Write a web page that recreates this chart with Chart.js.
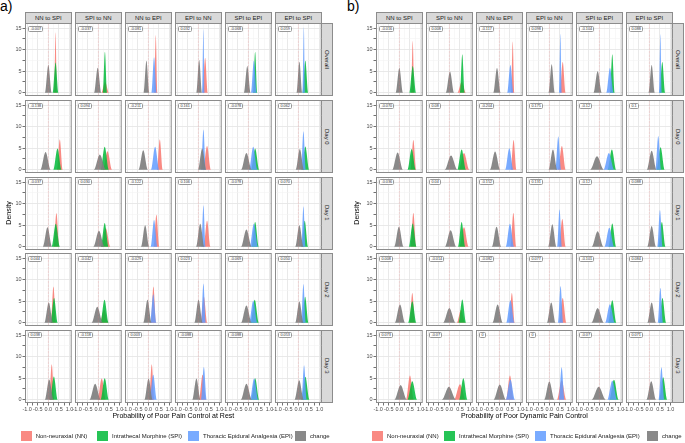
<!DOCTYPE html>
<html>
<head>
<meta charset="utf-8">
<script src="https://cdn.jsdelivr.net/npm/chart.js"></script>
<style>
  body { margin: 0; background: #fff; font-family: "Liberation Sans", Arial, sans-serif; }
  #fig { position: relative; width: 685px; height: 443px; overflow: hidden; background: #fff; }
  #fig div { position: absolute; white-space: nowrap; }
  .strip { box-sizing: border-box; background: #d9d9d9; border: 1px solid #8c8c8c; font-size: 6px; color: #1a1a1a;
           display: flex; align-items: center; justify-content: center; }
  .rstrip { writing-mode: vertical-rl; }
  .lab { font-size: 3.8px; line-height: 4px; padding: 0 1.2px; border: 0.5px solid #999; border-radius: 1.5px; background: #fff; color: #333; }
  .tag { font-size: 14px; color: #000; }
  .ttl { font-size: 7px; color: #000; }
  .key { width: 11px; height: 10px; }
  .ktx { font-size: 6px; color: #1a1a1a; line-height: 10px; }
  canvas { position: absolute; }
</style>
</head>
<body>
<div id="fig"></div>
<script>
const columns = ['NN to SPI', 'SPI to NN', 'NN to EPI', 'EPI to NN', 'SPI to EPI', 'EPI to SPI'];
const rowNames = ['Overall', 'Day 0', 'Day 1', 'Day 2', 'Day 3'];
const groups = ['NN', 'SPI', 'EPI', 'chg'];
const groupNames = { NN: 'Non-neuraxial (NN)', SPI: 'Intrathecal Morphine (SPI)', EPI: 'Thoracic Epidural Analgesia (EPI)', chg: 'change' };
const groupColors = { NN: 'rgba(248,118,109,0.85)', SPI: 'rgba(0,186,56,0.85)', EPI: 'rgba(97,156,255,0.85)', chg: 'rgba(127,127,127,0.92)' };
const drawOrder = { NN: 3, SPI: 2, EPI: 1, chg: 0 };
const xTicks = [-1, -0.75, -0.5, -0.25, 0, 0.25, 0.5, 0.75, 1];
const xLabelled = [-1, -0.5, 0, 0.5, 1];
const yTicks = [0, 2.5, 5, 7.5, 10, 12.5, 15];
const yLabelled = [0, 5, 10, 15];
const refLine = 0;

// each curve: [group, centre, peak density, half width at base]
const restOverall = [
  [['NN', 0.34, 14.0, 0.07], ['SPI', 0.34, 7.0, 0.14], ['chg', 0.0, 6.4, 0.16]],
  [['NN', 0.32, 2.5, 0.18], ['SPI', 0.31, 9.5, 0.1], ['chg', -0.03, 5.8, 0.17]],
  [['NN', 0.35, 13.4, 0.075], ['EPI', 0.27, 8.2, 0.12], ['chg', -0.09, 7.4, 0.13]],
  [['NN', 0.32, 8.1, 0.12], ['EPI', 0.24, 14.7, 0.07], ['chg', 0.04, 7.6, 0.13]],
  [['SPI', 0.32, 9.5, 0.1], ['EPI', 0.26, 7.4, 0.13], ['chg', -0.05, 6.2, 0.16]],
  [['SPI', 0.33, 7.4, 0.13], ['EPI', 0.26, 15.2, 0.065], ['chg', 0.05, 7.2, 0.14]]
];
const restDay0 = [
  [['NN', 0.54, 7.0, 0.14], ['SPI', 0.43, 4.9, 0.2], ['chg', -0.13, 4.1, 0.24]],
  [['NN', 0.43, 4.3, 0.22], ['SPI', 0.30, 5.3, 0.19], ['chg', 0.07, 3.5, 0.28]],
  [['NN', 0.54, 7.0, 0.14], ['EPI', 0.32, 5.3, 0.19], ['chg', -0.24, 4.5, 0.22]],
  [['NN', 0.41, 5.5, 0.18], ['EPI', 0.24, 9.3, 0.11], ['chg', 0.18, 4.9, 0.2]],
  [['SPI', 0.32, 4.9, 0.2], ['EPI', 0.23, 5.3, 0.19], ['chg', -0.09, 3.9, 0.25]],
  [['SPI', 0.33, 5.4, 0.18], ['EPI', 0.24, 8.9, 0.11], ['chg', 0.07, 4.8, 0.2]]
];
const restDay1 = [
  [['NN', 0.38, 7.8, 0.13], ['SPI', 0.35, 5.3, 0.19], ['chg', -0.04, 4.5, 0.22]],
  [['NN', 0.35, 4.3, 0.22], ['SPI', 0.30, 5.5, 0.18], ['chg', 0.03, 3.7, 0.27]],
  [['NN', 0.38, 7.4, 0.13], ['EPI', 0.27, 6.2, 0.16], ['chg', -0.15, 5.0, 0.2]],
  [['NN', 0.41, 6.0, 0.16], ['EPI', 0.24, 9.6, 0.1], ['chg', 0.09, 5.3, 0.19]],
  [['SPI', 0.32, 5.7, 0.17], ['EPI', 0.26, 5.3, 0.19], ['chg', -0.09, 4.0, 0.25]],
  [['SPI', 0.30, 6.0, 0.16], ['EPI', 0.24, 9.4, 0.1], ['chg', 0.05, 5.0, 0.2]]
];
const restDay2 = [
  [['NN', 0.24, 8.4, 0.12], ['SPI', 0.27, 5.7, 0.17], ['chg', 0.02, 4.7, 0.21]],
  [['NN', 0.27, 3.0, 0.2], ['SPI', 0.29, 5.3, 0.19], ['chg', -0.05, 3.7, 0.27]],
  [['NN', 0.24, 8.4, 0.12], ['EPI', 0.23, 6.6, 0.15], ['chg', -0.04, 5.3, 0.19]],
  [['NN', 0.26, 6.0, 0.16], ['EPI', 0.24, 9.1, 0.11], ['chg', 0.01, 5.3, 0.19]],
  [['SPI', 0.30, 5.3, 0.19], ['EPI', 0.23, 5.1, 0.2], ['chg', -0.09, 4.0, 0.25]],
  [['SPI', 0.32, 6.0, 0.16], ['EPI', 0.24, 9.0, 0.11], ['chg', 0.05, 4.9, 0.2]]
];
const restDay3 = [
  [['NN', 0.16, 8.2, 0.12], ['SPI', 0.26, 5.4, 0.18], ['chg', 0.04, 4.7, 0.21]],
  [['NN', 0.16, 4.9, 0.2], ['SPI', 0.30, 5.0, 0.2], ['chg', -0.15, 3.7, 0.27]],
  [['NN', 0.16, 8.2, 0.12], ['EPI', 0.23, 5.8, 0.17], ['chg', 0.01, 4.9, 0.2]],
  [['NN', 0.20, 5.8, 0.17], ['EPI', 0.26, 7.6, 0.13], ['chg', -0.09, 4.9, 0.2]],
  [['SPI', 0.32, 5.0, 0.2], ['EPI', 0.27, 4.9, 0.2], ['chg', -0.09, 3.7, 0.27]],
  [['SPI', 0.33, 5.3, 0.19], ['EPI', 0.27, 8.0, 0.12], ['chg', 0.04, 4.5, 0.22]]
];
const restLabels = [
  ['-0.007', '-0.037', '-0.081', '0.032', '-0.068', '0.059'],
  ['-0.138', '0.094', '-0.211', '0.161', '-0.078', '0.062'],
  ['-0.037', '0.030', '-0.122', '0.106', '-0.078', '0.070'],
  ['0.044', '-0.042', '-0.029', '0.023', '-0.069', '0.050'],
  ['0.038', '-0.118', '0.003', '-0.088', '-0.088', '0.053']
];

const dynOverall = [
  [['NN', 0.63, 12.0, 0.08], ['SPI', 0.63, 6.2, 0.16], ['chg', 0.0, 5.7, 0.17]],
  [['NN', 0.58, 2.5, 0.2], ['SPI', 0.61, 8.9, 0.11], ['chg', 0.03, 4.9, 0.2]],
  [['NN', 0.63, 11.9, 0.08], ['EPI', 0.52, 6.4, 0.15], ['chg', -0.11, 5.7, 0.17]],
  [['NN', 0.63, 7.1, 0.14], ['EPI', 0.52, 13.7, 0.07], ['chg', 0.11, 6.6, 0.15]],
  [['SPI', 0.61, 8.9, 0.11], ['EPI', 0.50, 5.7, 0.17], ['chg', -0.08, 5.0, 0.2]],
  [['SPI', 0.61, 7.1, 0.14], ['EPI', 0.52, 13.6, 0.07], ['chg', 0.11, 6.4, 0.15]]
];
const dynDay0 = [
  [['NN', 0.66, 6.9, 0.14], ['SPI', 0.58, 4.8, 0.2], ['chg', -0.08, 4.0, 0.25]],
  [['NN', 0.69, 3.9, 0.25], ['SPI', 0.58, 4.7, 0.21], ['chg', 0.08, 3.3, 0.3]],
  [['NN', 0.67, 6.9, 0.14], ['EPI', 0.47, 5.0, 0.2], ['chg', -0.2, 4.2, 0.24]],
  [['NN', 0.59, 5.5, 0.18], ['EPI', 0.42, 7.7, 0.13], ['chg', 0.17, 4.7, 0.21]],
  [['SPI', 0.59, 4.7, 0.21], ['EPI', 0.45, 3.9, 0.25], ['chg', -0.11, 3.1, 0.32]],
  [['SPI', 0.53, 5.2, 0.19], ['EPI', 0.42, 7.8, 0.13], ['chg', 0.11, 4.4, 0.23]]
];
const dynDay1 = [
  [['NN', 0.66, 7.9, 0.13], ['SPI', 0.63, 5.4, 0.18], ['chg', -0.02, 4.6, 0.22]],
  [['NN', 0.69, 4.5, 0.22], ['SPI', 0.58, 5.7, 0.17], ['chg', 0.06, 3.8, 0.26]],
  [['NN', 0.66, 7.9, 0.13], ['EPI', 0.50, 5.3, 0.19], ['chg', -0.13, 4.6, 0.22]],
  [['NN', 0.61, 6.4, 0.16], ['EPI', 0.48, 8.7, 0.11], ['chg', 0.14, 5.2, 0.19]],
  [['SPI', 0.61, 5.4, 0.18], ['EPI', 0.47, 4.4, 0.23], ['chg', -0.08, 3.6, 0.28]],
  [['SPI', 0.59, 5.7, 0.17], ['EPI', 0.50, 8.5, 0.12], ['chg', 0.11, 4.8, 0.21]]
];
const dynDay2 = [
  [['NN', 0.61, 6.9, 0.14], ['SPI', 0.61, 5.0, 0.2], ['chg', 0.03, 4.2, 0.24]],
  [['NN', 0.55, 3.0, 0.2], ['SPI', 0.61, 5.4, 0.18], ['chg', 0.0, 3.4, 0.29]],
  [['NN', 0.59, 6.9, 0.14], ['EPI', 0.52, 5.2, 0.19], ['chg', -0.08, 4.2, 0.24]],
  [['NN', 0.63, 5.7, 0.17], ['EPI', 0.53, 8.5, 0.12], ['chg', 0.09, 4.7, 0.21]],
  [['SPI', 0.61, 5.2, 0.19], ['EPI', 0.50, 4.3, 0.23], ['chg', -0.08, 3.4, 0.29]],
  [['SPI', 0.62, 5.7, 0.17], ['EPI', 0.52, 8.1, 0.12], ['chg', 0.11, 4.7, 0.21]]
];
const dynDay3 = [
  [['NN', 0.50, 5.6, 0.18], ['SPI', 0.61, 4.3, 0.23], ['chg', 0.06, 3.4, 0.29]],
  [['NN', 0.50, 3.6, 0.28], ['SPI', 0.66, 5.0, 0.2], ['chg', -0.02, 3.0, 0.33]],
  [['NN', 0.50, 5.6, 0.18], ['EPI', 0.52, 4.6, 0.22], ['chg', 0.02, 3.5, 0.29]],
  [['NN', 0.58, 4.5, 0.22], ['EPI', 0.58, 7.5, 0.13], ['chg', 0.0, 4.2, 0.24]],
  [['SPI', 0.69, 4.6, 0.22], ['EPI', 0.61, 4.4, 0.23], ['chg', -0.03, 3.0, 0.33]],
  [['SPI', 0.65, 5.2, 0.19], ['EPI', 0.57, 7.5, 0.13], ['chg', 0.09, 4.3, 0.23]]
];
const dynLabels = [
  ['-0.016', '0.008', '-0.117', '0.098', '-0.104', '0.088'],
  ['-0.070', '0.08', '-0.204', '0.175', '-0.12', '0.1'],
  ['-0.036', '0.04', '-0.152', '0.131', '-0.12', '0.088'],
  ['0.008', '-0.014', '-0.082', '0.077', '-0.101', '0.084'],
  ['0.073', '-0.07', '0', '0', '-0.07', '0.071']
];

const figures = [
  { tag: 'a)', tagX: 0, left: 25, rows: [restOverall, restDay0, restDay1, restDay2, restDay3], labels: restLabels,
    title: 'Probability of Poor Pain Control at Rest', densityX: 8, keys: [20.7, 97, 188, 295] },
  { tag: 'b)', tagX: 347, left: 376, rows: [dynOverall, dynDay0, dynDay1, dynDay2, dynDay3], labels: dynLabels,
    title: 'Probability of Poor Dynamic Pain Control', densityX: 356, keys: [372, 444, 535, 647] }
];

const colStep = 50, panelW = 46.7, top0 = 23.4, rowStep = 76.6, panelH = 73, stripH = 11;
const fontFam = '"Liberation Sans", Arial, sans-serif';
const fig = document.getElementById('fig');

function addDiv(cls, text, css) {
  const d = document.createElement('div');
  d.className = cls;
  d.textContent = text;
  Object.assign(d.style, css);
  fig.appendChild(d);
  return d;
}

const panelDeco = {
  id: 'panelDeco',
  afterDatasetsDraw(chart) {
    const { ctx, chartArea: a, scales: { x } } = chart;
    const px = x.getPixelForValue(refLine);
    ctx.save();
    ctx.strokeStyle = 'rgba(245,120,120,0.38)';
    ctx.lineWidth = 0.6;
    ctx.setLineDash([2.5, 1]);
    ctx.beginPath();
    ctx.moveTo(px, a.top);
    ctx.lineTo(px, a.bottom);
    ctx.stroke();
    ctx.restore();
  },
  afterDraw(chart) {
    const { ctx, chartArea: a } = chart;
    ctx.save();
    ctx.strokeStyle = '#8c8c8c';
    ctx.lineWidth = 1;
    ctx.strokeRect(a.left + 0.5, a.top + 0.5, a.right - a.left - 1, a.bottom - a.top - 1);
    ctx.restore();
  }
};

function makePanel(L, T, curves, showX, showY) {
  const cl = Math.floor(L) - 26;
  const padL = L - cl;
  const cw = Math.ceil(padL + panelW + 8);
  const ch = Math.ceil(panelH + 13);
  const cv = document.createElement('canvas');
  cv.width = cw; cv.height = ch;
  cv.style.left = cl + 'px'; cv.style.top = T + 'px';
  cv.style.width = cw + 'px'; cv.style.height = ch + 'px';
  fig.appendChild(cv);
  const gridCol = c => (c.tick && (xLabelled.includes(c.tick.value) || yLabelled.includes(c.tick.value))) ? '#e6e6e6' : '#f3f3f3';
  new Chart(cv, {
    type: 'line',
    data: {
      datasets: curves.map(([g, c, h, w]) => ({
        label: groupNames[g],
        data: [{ x: -1.1, y: 0 }, { x: c - w, y: 0 }, { x: c, y: h }, { x: c + w, y: 0 }, { x: 1.1, y: 0 }],
        backgroundColor: groupColors[g],
        borderColor: 'rgba(0,0,0,0)',
        borderWidth: 0,
        fill: 'origin',
        pointRadius: 0,
        cubicInterpolationMode: 'monotone',
        order: drawOrder[g]
      }))
    },
    options: {
      responsive: false,
      animation: false,
      events: [],
      devicePixelRatio: 1,
      layout: { padding: { top: 0, left: 0, right: cw - padL - panelW, bottom: ch - panelH - 12 } },
      plugins: { legend: { display: false }, tooltip: { enabled: false } },
      scales: {
        x: {
          type: 'linear', min: -1.1, max: 1.1,
          afterBuildTicks: s => { s.ticks = xTicks.map(v => ({ value: v })); },
          afterFit: s => { s.height = 12; s.paddingLeft = 0; s.paddingRight = 0; },
          border: { display: false },
          grid: { color: gridCol, lineWidth: c => (c.tick && xLabelled.includes(c.tick.value)) ? 0.9 : 0.6,
                  drawTicks: showX, tickLength: 2.5, tickColor: '#4d4d4d', tickWidth: 0.8 },
          ticks: { display: showX, autoSkip: false, maxRotation: 0, minRotation: 0, padding: 1, color: '#4d4d4d',
                   font: { size: 5.5, family: fontFam },
                   callback: v => xLabelled.includes(v) ? v.toFixed(1) : '' }
        },
        y: {
          type: 'linear', min: -0.77, max: 16.17,
          afterBuildTicks: s => { s.ticks = yTicks.map(v => ({ value: v })); },
          afterFit: s => { s.width = padL; s.paddingTop = 0; s.paddingBottom = 0; },
          border: { display: false },
          grid: { color: gridCol, lineWidth: c => (c.tick && yLabelled.includes(c.tick.value)) ? 0.9 : 0.6,
                  drawTicks: showY, tickLength: 2.5, tickColor: '#4d4d4d', tickWidth: 0.8 },
          ticks: { display: showY, autoSkip: false, padding: 1, color: '#4d4d4d',
                   font: { size: 5.5, family: fontFam },
                   callback: v => yLabelled.includes(v) ? String(v) : '' }
        }
      }
    },
    plugins: [panelDeco]
  });
}

figures.forEach(f => {
  addDiv('tag', f.tag, { left: f.tagX + 'px', top: '-2px' });
  columns.forEach((name, c) => {
    addDiv('strip', name, { left: (f.left + c * colStep) + 'px', top: (top0 - stripH) + 'px',
                            width: panelW + 'px', height: (stripH + 0.6) + 'px' });
  });
  rowNames.forEach((name, r) => {
    const T = top0 + r * rowStep;
    addDiv('strip rstrip', name, { left: (f.left + 5 * colStep + panelW - 0.6) + 'px', top: T + 'px',
                                   width: (stripH + 0.6) + 'px', height: panelH + 'px' });
    columns.forEach((_, c) => {
      const L = f.left + c * colStep;
      makePanel(L, T, f.rows[r][c], r === rowNames.length - 1, c === 0);
      addDiv('lab', f.labels[r][c], { left: (L + 3.2) + 'px', top: (T + 2.6) + 'px' });
    });
  });
  addDiv('ttl', 'Density', { left: f.densityX + 'px', top: '213px', transform: 'translate(-50%,-50%) rotate(-90deg)' });
  addDiv('ttl', f.title, { left: (f.left + (5 * colStep + panelW) / 2) + 'px', top: '415px', transform: 'translate(-50%,-50%)' });
  groups.forEach((g, i) => {
    addDiv('key', '', { left: f.keys[i] + 'px', top: '430.5px', background: groupColors[g] });
    addDiv('ktx', groupNames[g], { left: (f.keys[i] + 15) + 'px', top: '430.5px' });
  });
});
</script>
</body>
</html>
